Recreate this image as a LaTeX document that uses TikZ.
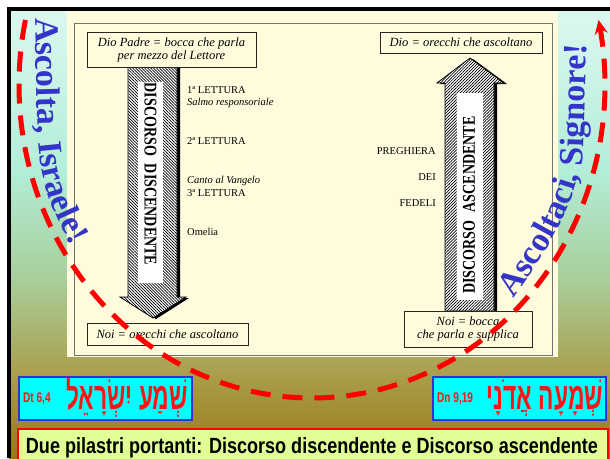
\documentclass[tikz,border=0pt]{standalone}
\usepackage{fontspec}
\setmainfont{Liberation Serif}
\newfontfamily\narrowsans[FakeStretch=0.82]{Liberation Sans}
\newfontfamily\condserif[FakeStretch=0.78]{Liberation Serif}
\newfontfamily\hebfont[Script=Hebrew,FakeStretch=0.6]{Liberation Sans}
\newfontfamily\refsans[FakeStretch=0.72]{Liberation Sans}
\TeXXeTstate=1
\usetikzlibrary{patterns.meta,decorations.text,arrows.meta}
\definecolor{cream}{RGB}{255,252,222}
\definecolor{ascblue}{RGB}{52,52,200}
\definecolor{hebcyan}{RGB}{0,255,255}
\definecolor{boxblue}{RGB}{51,51,204}
\definecolor{barfill}{RGB}{224,255,150}
\definecolor{hebred}{RGB}{255,20,20}
\definecolor{bgA}{RGB}{220,248,240}
\definecolor{bgB}{RGB}{178,238,216}
\definecolor{bgC}{RGB}{168,206,154}
\definecolor{bgD}{RGB}{170,160,78}
\definecolor{bgE}{RGB}{154,120,24}
\newcommand\ascfmt{\fontsize{34}{34}\selectfont\bfseries\color{ascblue}}
\begin{document}
\begin{tikzpicture}[x=1pt,y=-1pt,
  pbox/.style={draw=black!85,line width=1pt,fill=cream,inner sep=0pt,align=center,font=\fontsize{12.5}{14}\selectfont\itshape},
  lbl/.style={anchor=west,inner sep=0pt,font=\fontsize{10.5}{12}\selectfont},
  lbli/.style={anchor=west,inner sep=0pt,font=\fontsize{10.5}{12}\selectfont\itshape},
  rlbl/.style={anchor=east,inner sep=0pt,font=\fontsize{10.5}{12}\selectfont},
  pillartext/.style={inner sep=0pt,font=\condserif\bfseries\fontsize{18}{18}\selectfont},
  whitestrip/.style={fill=white,draw=none,inner sep=0pt},
  shadowfill/.style={fill=black},
  hatchdown/.style={draw=black,line width=0.8pt,preaction={fill=white},pattern={Lines[angle=-45,distance=2.1pt,line width=0.7pt]},pattern color=black},
  hatchup/.style={draw=black,line width=0.8pt,preaction={fill=white},pattern={Lines[angle=45,distance=2.1pt,line width=0.7pt]},pattern color=black},
  redarc/.style={draw=red,line width=5pt,dash pattern=on 20pt off 12pt,-{Stealth[length=14pt,width=13pt]}},
  hebbox/.style={draw=boxblue,line width=2pt,fill=hebcyan,inner sep=0pt,minimum width=173,minimum height=43},
  hebtext/.style={inner sep=0pt,text=hebred,font=\hebfont\bfseries\fontsize{38}{38}\selectfont},
  reftext/.style={inner sep=0pt,text=hebred,font=\refsans\bfseries\fontsize{14}{14}\selectfont},
  ascpath/.style={decorate,decoration={text along path,text align=left}}
]
\useasboundingbox (0,0) rectangle (610,458);
\clip (0,0) rectangle (610,458);
\fill[white] (0,0) rectangle (610,458);
% background gradient
\shade[top color=bgA,bottom color=bgB] (9,9) rectangle (610,171);
\shade[top color=bgB,bottom color=bgC] (9,170) rectangle (610,281);
\shade[top color=bgC,bottom color=bgD] (9,280) rectangle (610,371);
\shade[top color=bgD,bottom color=bgE] (9,370) rectangle (610,458);
% black frame
\fill[black] (7,7) rectangle (610,11);
\fill[black] (7,7) rectangle (11,458);
% cream panel
\fill[cream] (67,11) rectangle (558,357);
\draw[black!55,line width=0.9pt] (74,23) rectangle (552,355);
% left descending pillar
\fill[shadowfill,shift={(3,1)}] (128,67) -- (177,67) -- (177,297) -- (186,297) -- (153,318) -- (120,297) -- (128,297) -- cycle;
\path[hatchdown] (128,67) -- (177,67) -- (177,297) -- (186,297) -- (153,318) -- (120,297) -- (128,297) -- cycle;
\node[whitestrip,minimum width=25,minimum height=201] (lstrip) at (150.5,182.5) {};
\node[pillartext,rotate=-90] (ltext) at (150.5,174) {DISCORSO\hspace{8pt}DISCENDENTE};
% right ascending pillar
\fill[shadowfill,shift={(3,1)}] (445,311) -- (445,83) -- (437,83) -- (470,58) -- (504,83) -- (494,83) -- (494,311) -- cycle;
\path[hatchup] (445,311) -- (445,83) -- (437,83) -- (470,58) -- (504,83) -- (494,83) -- (494,311) -- cycle;
\node[whitestrip,minimum width=26,minimum height=207] (rstrip) at (470,196.5) {};
\node[pillartext,rotate=90] (rtext) at (469,205) {DISCORSO\hspace{8pt}ASCENDENTE};
% boxes
\node[pbox,minimum width=169,minimum height=35] (dpadre) at (171.5,49.5) {Dio Padre = bocca che parla\\[-1pt]per mezzo del Lettore};
\node[pbox,minimum width=161,minimum height=22] (noil) at (167.5,334) {Noi = orecchi che ascoltano};
\node[pbox,minimum width=162,minimum height=21] (dio) at (461,42.5) {Dio = orecchi che ascoltano};
\node[pbox,minimum width=128,minimum height=36] (noir) at (468,329) {Noi = bocca\\[-1pt]che parla e supplica};
% left labels
\node[lbl] (l1) at (187,90) {1ª LETTURA};
\node[lbli] (l1b) at (187,102.5) {Salmo responsoriale};
\node[lbl] (l2) at (187,141) {2ª LETTURA};
\node[lbli] (l3a) at (187,181) {Canto al Vangelo};
\node[lbl] (l3) at (187,193) {3ª LETTURA};
\node[lbl] (l4) at (187,232) {Omelia};
% right labels
\node[rlbl] (r1) at (436,151) {PREGHIERA};
\node[rlbl] (r2) at (436,177) {DEI};
\node[rlbl] (r3) at (436,203) {FEDELI};
% blue curved texts
\path[ascpath,decoration={text={|\ascfmt|Ascolta, Israele!}}] (35,18) -- (38,138) .. controls (41,188) and (57,228) .. (88,270);
\path[ascpath,decoration={text={|\ascfmt|Ascoltaci, Signore!}}] (513,298) .. controls (543,257) and (572,215) .. (583,158) -- (588,5);
% red dashed arc
\draw[redarc] plot[domain=0:204,samples=150,smooth] ({312+293*cos(192-\x)},{85+313*sin(192-\x)});
% hebrew boxes
\node[hebbox] (lheb) at (105.5,398.5) {};
\node[reftext,anchor=west] (lref) at (23,399) {Dt 6,4};
\node[hebtext] (lhebt) at (127,398) {\beginR שְׁמַע יִשְׂרָאֵל\endR};
\node[hebbox] (rheb) at (519.5,398) {};
\node[reftext,anchor=west] (rref) at (437,399) {Dn 9,19};
\node[hebtext] (rhebt) at (545,398) {\beginR שְׁמָעָה אֲדֹנָי\endR};
% bottom bar
\node[draw=red,line width=1.5pt,fill=barfill,anchor=north west,minimum width=590,minimum height=40,inner sep=0pt] (bar) at (17,428) {};
\node[anchor=base,inner sep=0pt,font=\narrowsans\bfseries\fontsize{22}{22}\selectfont] (bartxt) at (312,453) {Due pilastri portanti: Discorso discendente e Discorso ascendente};
\end{tikzpicture}
\end{document}
